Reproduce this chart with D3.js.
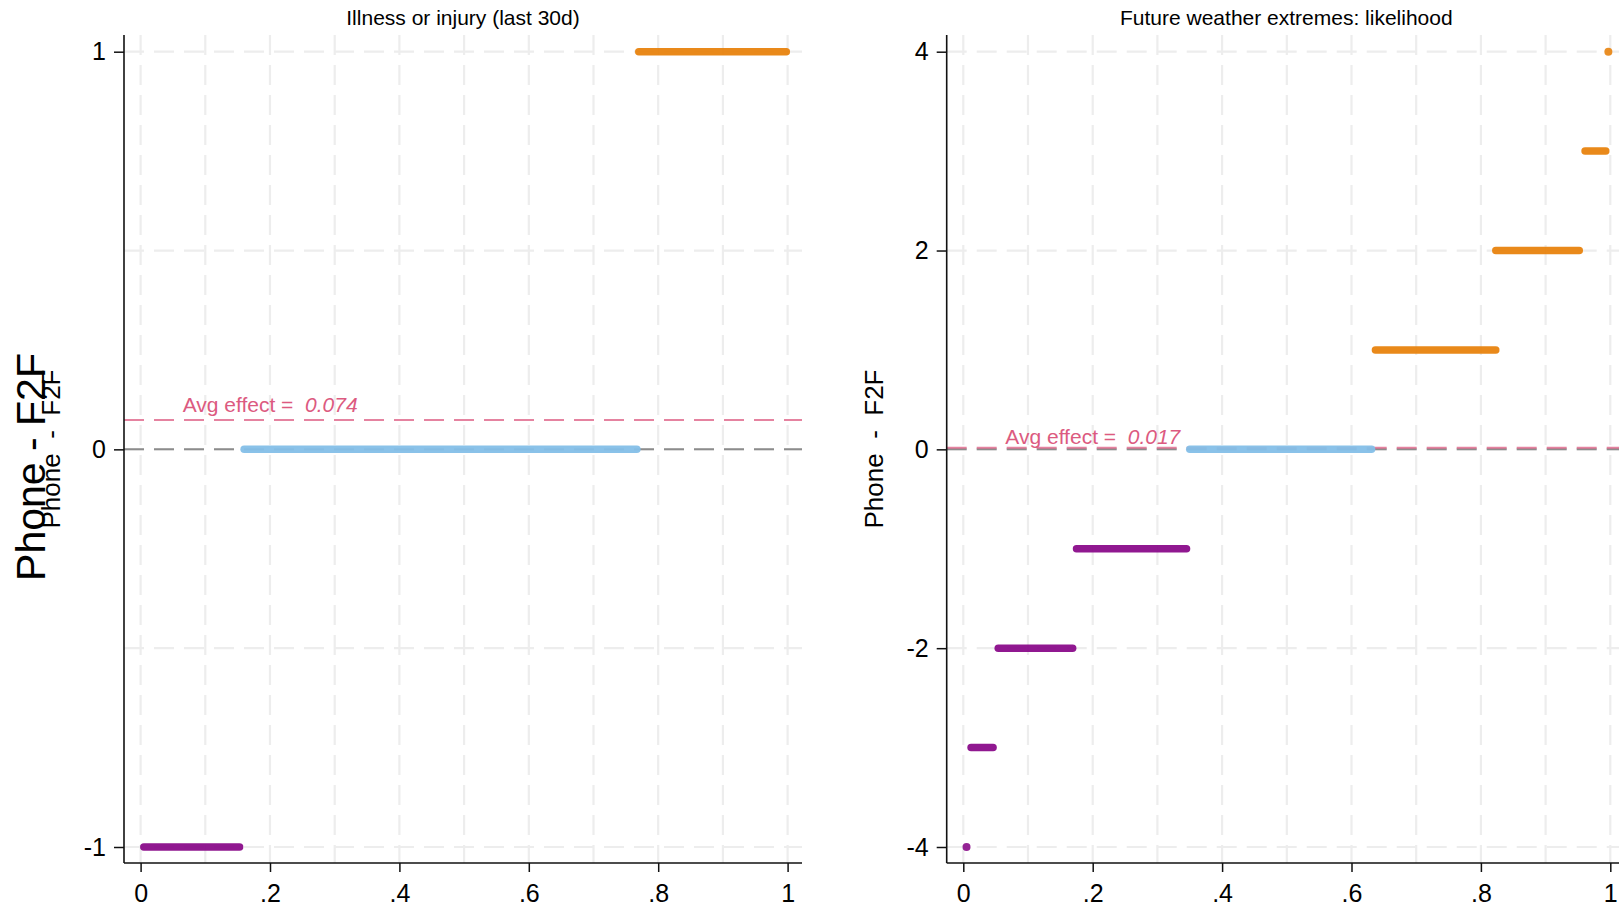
<!DOCTYPE html>
<html>
<head>
<meta charset="utf-8">
<script src="https://cdn.jsdelivr.net/npm/d3@7"></script>
<style>
  body { margin: 0; background: #fff; }
  svg { display: block; font-family: "Liberation Sans", Arial, Helvetica, sans-serif; }
  text { white-space: pre; }
</style>
</head>
<body>
<svg id="chart" width="1619" height="906"></svg>
<script>
// panel 1: Illness or injury (last 30d)
var illnessLevels = [-1, 0, 1];
var illnessStart  = [0.005, 0.16, 0.77];
var illnessEnd    = [0.153, 0.767, 0.998];
var illnessAvg = 0.074;
var illnessYTicks = [-1, 0, 1];
var illnessYGrid  = [-1, -0.5, 0, 0.5, 1];

// panel 2: Future weather extremes: likelihood
var weatherLevels = [-4, -3, -2, -1, 0, 1, 2, 3, 4];
var weatherStart  = [0.005, 0.012, 0.054, 0.175, 0.35, 0.637, 0.823, 0.961, 0.997];
var weatherEnd    = [0.005, 0.046, 0.169, 0.345, 0.631, 0.823, 0.952, 0.993, 0.997];
var weatherAvg = 0.017;
var weatherYTicks = [-4, -2, 0, 2, 4];
var weatherYGrid  = [-4, -2, 0, 2, 4];

var xTicks = [0, 0.2, 0.4, 0.6, 0.8, 1];
var xGrid  = d3.range(0, 11).map(function(i) { return i / 10; });

var purple = '#8a0c8a', blue = '#84bfe8', orange = '#e8830e', pink = '#dc5a80';

var svg = d3.select('#chart');

var panels = [
  { title: 'Illness or injury (last 30d)', levels: illnessLevels, start: illnessStart, end: illnessEnd,
    avg: illnessAvg, yTicks: illnessYTicks, yGrid: illnessYGrid, yDomain: [-1, 1],
    axisX: 124, right: 802, avgDy: -8 },
  { title: 'Future weather extremes: likelihood', levels: weatherLevels, start: weatherStart, end: weatherEnd,
    avg: weatherAvg, yTicks: weatherYTicks, yGrid: weatherYGrid, yDomain: [-4, 4],
    axisX: 946.7, right: 1626, avgDy: -4 }
];

var plotTop = 35, plotBottom = 863;

function fmtX(d) {
  if (d === 0) return '0';
  if (d === 1) return '1';
  return d3.format('.1f')(d).replace(/^0/, '');
}

function colorOf(d) { return d < 0 ? purple : d > 0 ? orange : blue; }

panels.forEach(function(p) {
  var x = d3.scaleLinear().domain([0, 1]).range([p.axisX + 16.6, p.axisX + 663.6]);
  var y = d3.scaleLinear().domain(p.yDomain).range([847, 51.7]);
  var g = svg.append('g');

  // grid
  g.selectAll('line.vgrid').data(xGrid).enter().append('line')
      .attr('x1', function(d) { return x(d); }).attr('x2', function(d) { return x(d); })
      .attr('y1', plotTop).attr('y2', plotBottom)
      .attr('stroke', '#ededed').attr('stroke-width', 2.2).attr('stroke-dasharray', '20,10');
  g.selectAll('line.hgrid').data(p.yGrid).enter().append('line')
      .attr('x1', p.axisX).attr('x2', p.right)
      .attr('y1', function(d) { return y(d); }).attr('y2', function(d) { return y(d); })
      .attr('stroke', '#ededed').attr('stroke-width', 2.2).attr('stroke-dasharray', '20,10');

  // zero line and average effect line
  g.append('line')
      .attr('x1', p.axisX).attr('x2', p.right).attr('y1', y(0)).attr('y2', y(0))
      .attr('stroke', '#8c8c8c').attr('stroke-width', 2).attr('stroke-dasharray', '20,10');
  g.append('line')
      .attr('x1', p.axisX).attr('x2', p.right).attr('y1', y(p.avg)).attr('y2', y(p.avg))
      .attr('stroke', pink).attr('stroke-opacity', 0.75).attr('stroke-width', 2).attr('stroke-dasharray', '20,10');

  var lbl = g.append('text')
      .attr('x', x(0.065)).attr('y', y(p.avg) + p.avgDy)
      .attr('fill', pink).style('font-size', '21px');
  lbl.append('tspan').text('Avg effect =  ');
  lbl.append('tspan').style('font-style', 'italic').text(d3.format('.3f')(p.avg));

  // segments (runs of points); single points as dots
  var idx = p.levels.map(function(d, i) { return i; });
  g.selectAll('line.seg').data(idx.filter(function(i) { return p.end[i] > p.start[i]; }))
    .enter().append('line')
      .attr('x1', function(i) { return x(p.start[i]); })
      .attr('x2', function(i) { return x(p.end[i]); })
      .attr('y1', function(i) { return y(p.levels[i]); })
      .attr('y2', function(i) { return y(p.levels[i]); })
      .attr('stroke', function(i) { return colorOf(p.levels[i]); })
      .attr('stroke-opacity', 0.95)
      .attr('stroke-width', 7.5).attr('stroke-linecap', 'round');
  g.selectAll('circle.pt').data(idx.filter(function(i) { return p.end[i] <= p.start[i]; }))
    .enter().append('circle')
      .attr('cx', function(i) { return x(p.start[i]); })
      .attr('cy', function(i) { return y(p.levels[i]); })
      .attr('r', 4)
      .attr('fill', function(i) { return colorOf(p.levels[i]); })
      .attr('fill-opacity', 0.9);

  // axes
  g.append('line').attr('x1', p.axisX).attr('x2', p.axisX).attr('y1', plotTop).attr('y2', plotBottom)
      .attr('stroke', '#111').attr('stroke-width', 1.6);
  g.append('line').attr('x1', p.axisX).attr('x2', p.right).attr('y1', plotBottom).attr('y2', plotBottom)
      .attr('stroke', '#111').attr('stroke-width', 1.6);

  var yAxis = g.append('g').attr('transform', 'translate(' + p.axisX + ',0)')
      .call(d3.axisLeft(y).tickValues(p.yTicks).tickSize(10).tickPadding(8)
        .tickFormat(function(d) { return String(d); }));
  var xAxis = g.append('g').attr('transform', 'translate(0,' + plotBottom + ')')
      .call(d3.axisBottom(x).tickValues(xTicks).tickSize(9).tickPadding(12).tickFormat(fmtX));
  [yAxis, xAxis].forEach(function(a) {
    a.select('.domain').remove();
    a.selectAll('.tick line').attr('stroke', '#111').attr('stroke-width', 1.5);
    a.selectAll('.tick text').attr('fill', '#000').style('font-size', '25px')
        .style('font-family', '"Liberation Sans", Arial, sans-serif');
  });

  // title
  g.append('text').attr('x', (p.axisX + p.right) / 2).attr('y', 25)
      .attr('text-anchor', 'middle').style('font-size', '21px').attr('fill', '#000')
      .text(p.title);

  // y label
  g.append('text')
      .attr('transform', 'translate(' + (p.axisX - 64) + ',449) rotate(-90)')
      .attr('text-anchor', 'middle').style('font-size', '26px').attr('fill', '#000')
      .text('Phone  -  F2F');
});

// big shared y label
svg.append('text')
    .attr('transform', 'translate(45,467) rotate(-90)')
    .attr('text-anchor', 'middle').style('font-size', '41px').attr('fill', '#000')
    .text('Phone - F2F');
</script>
</body>
</html>
